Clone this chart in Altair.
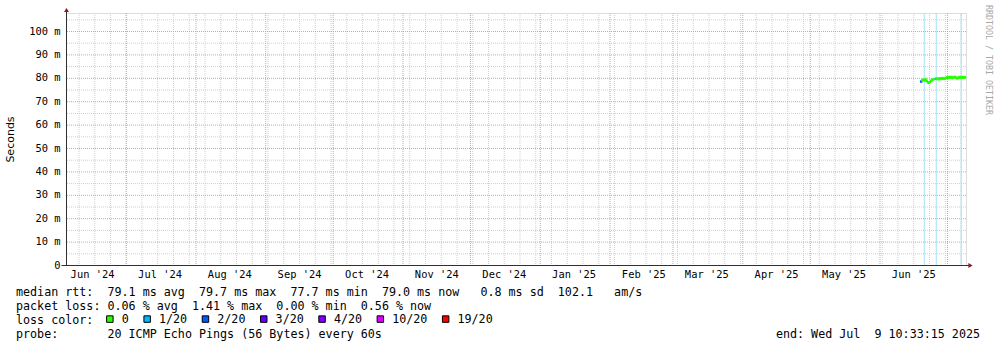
import altair as alt
import pandas as pd

MONO = "DejaVu Sans Mono"
NB = "\u00a0"

# ---------------- data ----------------
point_times = [
    "2025-06-19T12:00", "2025-06-20T00:00", "2025-06-20T12:00", "2025-06-21T00:00",
    "2025-06-21T12:00", "2025-06-22T00:00", "2025-06-22T12:00", "2025-06-23T00:00",
    "2025-06-23T12:00", "2025-06-24T00:00", "2025-06-24T12:00", "2025-06-25T00:00",
    "2025-06-26T00:00", "2025-06-26T12:00", "2025-06-27T00:00", "2025-06-27T12:00",
    "2025-06-28T00:00", "2025-06-28T12:00", "2025-06-29T00:00", "2025-06-29T12:00",
    "2025-06-30T00:00", "2025-06-30T12:00", "2025-07-01T00:00", "2025-07-01T12:00",
    "2025-07-02T00:00", "2025-07-02T12:00", "2025-07-03T00:00", "2025-07-03T12:00",
    "2025-07-04T00:00", "2025-07-04T12:00", "2025-07-05T00:00", "2025-07-05T12:00",
    "2025-07-06T00:00", "2025-07-06T12:00", "2025-07-07T00:00", "2025-07-07T12:00",
    "2025-07-08T00:00", "2025-07-08T12:00", "2025-07-09T00:00",
]
point_values = [
    78.4, 79.0, 79.2, 78.9, 79.3, 78.7, 78.1, 77.8,
    78.3, 78.8, 79.2, 79.4, 79.6, 79.5, 79.7, 79.4,
    79.8, 79.6, 79.9, 79.5, 79.7, 79.9, 80.2, 80.0,
    80.3, 80.1, 80.4, 79.9, 80.2, 80.4, 80.1, 79.8,
    80.0, 80.3, 80.2, 80.0, 80.3, 80.1, 80.2,
]
point_loss = [
    "2/20", "0", "0", "0", "0", "0", "0", "0",
    "0", "0", "0", "0", "1/20", "0", "0", "0",
    "0", "0", "0", "0", "0", "0", "0", "0",
    "0", "0", "0", "0", "0", "0", "0", "0",
    "0", "0", "0", "0", "0", "0", "0",
]
loss_line_times = ["2025-06-20T16:00", "2025-06-26T00:00", "2025-07-07T02:00"]

loss_levels = ["0", "1/20", "2/20", "3/20", "4/20", "10/20", "19/20"]
loss_colors = ["#26ff00", "#00b8ff", "#0059ff", "#5e00ff", "#7e00ff", "#dd00ff", "#ff0000"]

month_label_dates = [
    (2024, 6), (2024, 7), (2024, 8), (2024, 9), (2024, 10), (2024, 11), (2024, 12),
    (2025, 1), (2025, 2), (2025, 3), (2025, 4), (2025, 5), (2025, 6),
]
month_starts = [
    "2024-07-01", "2024-08-01", "2024-09-01", "2024-10-01", "2024-11-01", "2024-12-01",
    "2025-01-01", "2025-02-01", "2025-03-01", "2025-04-01", "2025-05-01", "2025-06-01",
    "2025-07-01",
]
week_starts = [d.strftime("%Y-%m-%d") for d in pd.date_range("2024-06-10", "2025-07-07", freq="7D")]

y_labels = [0, 10, 20, 30, 40, 50, 60, 70, 80, 90, 100]
y_major = [10, 20, 30, 40, 50, 60, 70, 80, 90, 100]
y_minor = [5, 15, 25, 35, 45, 55, 65, 75, 85, 95, 105]
y_max = 107.7

text_lines = [
    "median rtt:  79.1 ms avg  79.7 ms max  77.7 ms min  79.0 ms now   0.8 ms sd  102.1   am/s",
    "packet loss: 0.06 % avg  1.41 % max  0.00 % min  0.56 % now",
    "loss color:",
    "probe:       20 ICMP Echo Pings (56 Bytes) every 60s"
    + " " * 56 + "end: Wed Jul  9 10:33:15 2025",
]
text_lines = [t.replace(" ", NB) for t in text_lines]

# ---------------- scales & axes ----------------
x_scale = alt.Scale(
    domain=[alt.DateTime(year=2024, month=6, date=4, hours=10, minutes=33, seconds=15),
            alt.DateTime(year=2025, month=7, date=9, hours=10, minutes=33, seconds=15)]
)
y_scale = alt.Scale(domain=[0, y_max], nice=False, zero=True)

GRID_MINOR = "#cfcfcf"
GRID_MAJOR = "#e89a9a"
AXIS = "#303030"
ARROW = "#8b1a1a"

x_axis = alt.Axis(
    values=[alt.DateTime(year=y, month=m, date=16) for (y, m) in month_label_dates],
    format="%b '%y", formatType="time", grid=False, ticks=False,
    domain=True, domainColor=AXIS, domainWidth=1,
    labelFont=MONO, labelFontSize=10.4, labelColor="black",
    labelPadding=4, labelAlign="center", labelBaseline="top", labelFlush=False,
    labelOverlap=False,
)
y_axis = alt.Axis(
    values=y_labels, grid=False, ticks=False, domain=True, domainColor=AXIS, domainWidth=1,
    labelExpr="datum.value == 0 ? '0' : datum.value + ' m'",
    labelFont=MONO, labelFontSize=10.4, labelColor="black", labelPadding=6,
    labelBaseline="middle", labelAlign="right", labelFlush=False, labelOverlap=False,
    titleFont="DejaVu Sans", titleFontSize=11, titleFontWeight="normal", titleColor="black",
    titleX=-56, titleY=126, titleAngle=-90, titleAlign="center", titleBaseline="middle",
)


def X(field):
    return alt.X(field, type="temporal", scale=x_scale, axis=x_axis, title=None)


def Y(field):
    return alt.Y(field, type="quantitative", scale=y_scale, axis=y_axis, title="Seconds")


pts = pd.DataFrame({"t": point_times, "v": point_values, "loss": point_loss})
lossdf = pd.DataFrame({"t": loss_line_times})
ymin_df = pd.DataFrame({"v": y_minor})
ymaj_df = pd.DataFrame({"v": y_major})
xmin_df = pd.DataFrame({"t": week_starts})
xmaj_df = pd.DataFrame({"t": month_starts})
one = pd.DataFrame({"a": [0]})

ygrid_minor = alt.Chart(ymin_df).mark_rule(stroke=GRID_MINOR, strokeDash=[1, 1], strokeWidth=1, yOffset=0.5).encode(
    y=Y("v")
)
xgrid_minor = alt.Chart(xmin_df).mark_rule(stroke=GRID_MINOR, strokeDash=[1, 1], strokeWidth=1, xOffset=0.5).encode(
    x=X("t")
)
ygrid_major = alt.Chart(ymaj_df).mark_rule(stroke=GRID_MAJOR, strokeDash=[1, 1], strokeWidth=1, yOffset=0.5).encode(
    y=Y("v")
)
xgrid_major = alt.Chart(xmaj_df).mark_rule(stroke=GRID_MAJOR, strokeDash=[1, 1], strokeWidth=1, xOffset=0.5).encode(
    x=X("t")
)
loss_lines = alt.Chart(lossdf).mark_rule(stroke="#a5e1f5", strokeWidth=1, xOffset=0.5).encode(
    x=X("t")
)

points = alt.Chart(pts).mark_square(size=6, opacity=1, filled=True).encode(
    x=X("t"),
    y=Y("v"),
    color=alt.Color(
        "loss:N", title=None,
        scale=alt.Scale(domain=loss_levels, range=loss_colors),
        legend=alt.Legend(
            orient="none", legendX=38, legendY=300, direction="horizontal",
            symbolType="square", symbolSize=42, symbolStrokeColor="black", symbolStrokeWidth=1,
            symbolOpacity=1, labelFont=MONO, labelFontSize=11.7, labelColor="black",
            labelOffset=6, columnPadding=12.3, padding=0, gridAlign="each",
        ),
    ),
)

# axis decorations (arrows and extensions)
yext = alt.Chart(one).mark_rule(stroke=AXIS, strokeWidth=1).encode(
    x=alt.value(0.5), y=alt.value(-3), y2=alt.value(3)
)
xext = alt.Chart(one).mark_rule(stroke=AXIS, strokeWidth=1).encode(
    x=alt.value(-4.5), x2=alt.value(904), y=alt.value(252.5)
)
arrow_up = alt.Chart(one).mark_point(shape="triangle-up", filled=True, color=ARROW, size=24, opacity=1).encode(
    x=alt.value(0.5), y=alt.value(-3)
)
arrow_right = alt.Chart(one).mark_point(shape="triangle-right", filled=True, color=ARROW, size=24, opacity=1).encode(
    x=alt.value(904.5), y=alt.value(252.5)
)
watermark = alt.Chart(one).mark_text(
    angle=90, align="left", baseline="middle", font=MONO, fontSize=8.3, color="#a8a8a8"
).encode(
    x=alt.value(921.5), y=alt.value(-8), text=alt.value("RRDTOOL / TOBI OETIKER")
)

chart = alt.layer(
    ygrid_minor, xgrid_minor, ygrid_major, xgrid_major, loss_lines, points,
    yext, xext, arrow_up, arrow_right, watermark,
).properties(
    width=900, height=252,
    autosize=alt.AutoSizeParams(type="none"),
    padding={"left": 66, "top": 13, "right": 31, "bottom": 82},
    title=alt.TitleParams(
        text=text_lines[0], subtitle=text_lines[1:], orient="bottom", anchor="start", frame="group",
        font=MONO, fontSize=11.7, fontWeight="normal", color="black", lineHeight=14,
        subtitleFont=MONO, subtitleFontSize=11.7, subtitleColor="black", subtitleLineHeight=14,
        subtitlePadding=2.3, offset=-39, dx=-50,
    ),
).configure_view(stroke=None).configure(background="white")

chart.save("out.html", embed_options={"renderer": "svg", "actions": False})
